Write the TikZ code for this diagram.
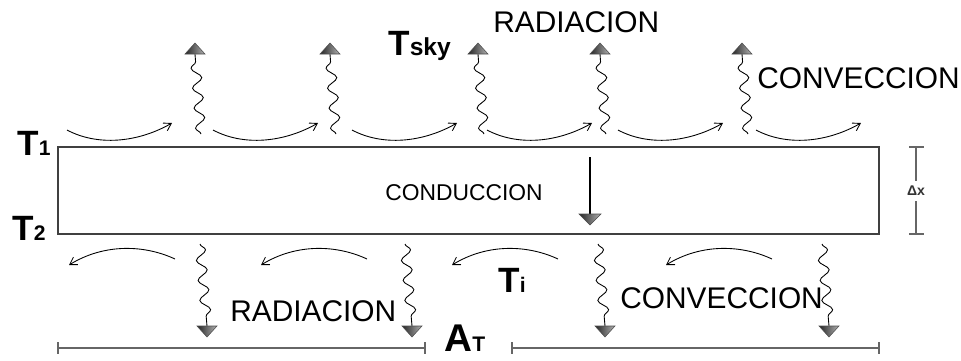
\documentclass[tikz,border=0pt]{standalone}
\usepackage{fontspec}
\setmainfont{Liberation Sans}
\usetikzlibrary{decorations.pathmorphing,arrows.meta}

\tikzset{
  wave/.style={decorate, decoration={snake, segment length=0.4cm, amplitude=0.1cm, post length=0.06cm}, line width=0.5pt},
  tipshade/.style={left color=black!85, right color=black!30, draw=black!70, line width=0.3pt},
  flow/.style={-{Straight Barb[length=4pt,width=5pt]}, line width=0.5pt},
  dimline/.style={black!60, line width=1pt},
  word/.style={inner sep=0pt, anchor=base west, font=\fontsize{17}{17}\selectfont},
  temp/.style={inner sep=0pt, anchor=base west, font=\bfseries\fontsize{20}{20}\selectfont},
}
\newcommand{\subsm}[1]{{\fontsize{12}{12}\selectfont #1}}

\begin{document}
\begin{tikzpicture}[x=0.02cm, y=-0.02cm]
\useasboundingbox (0,0) rectangle (961,360);

% Slab
\draw[black!75, line width=0.8pt] (58,147) rectangle (879,234);

% Convection above and below
\foreach \s in {67,213,352,487,618,756}
  \draw[flow] (\s,130) .. controls (\s+30,146) and (\s+70,143) .. (\s+105,123);
\foreach \s in {175,367,558,772}
  \draw[flow] (\s,259) .. controls (\s-30,245) and (\s-70,243) .. (\s-106,265);

% Radiation up and down
\foreach \x in {195,330,478,600,742} {
  \draw[wave] (\x+6,134) -- (\x,54);
  \shade[tipshade] (\x-10,54) -- (\x+10,54) -- (\x,43) -- cycle;
}
\foreach \x in {200,405,598,822} {
  \draw[wave] (\x,244) -- (\x+7,326);
  \shade[tipshade] (\x-3,326) -- (\x+17,326) -- (\x+7,337) -- cycle;
}

% Conduction
\draw[line width=0.6pt] (590,157) -- (590,214);
\shade[tipshade] (579,214) -- (601,214) -- (590,225) -- cycle;

% Dimensions
\draw[dimline] (909,147) -- (924,147) (916,147) -- (916,181)
  (916,201) -- (916,234) (909,234) -- (924,234);
\draw[dimline] (58,342) -- (58,354) (58,348) -- (425,348) (425,342) -- (425,354);
\draw[dimline] (512,342) -- (512,354) (512,348) -- (879,348) (879,342) -- (879,354);

% Labels
\node[word] (radTop) at (493,32) {RADIACION};
\node[word] (convTop) at (757,88) {CONVECCION};
\node[word] (radBot) at (230,321) {RADIACION};
\node[word] (convBot) at (620,308) {CONVECCION};
\node[word, font=\fontsize{13}{13}\selectfont] (cond) at (385,200) {CONDUCCION};
\node[temp] (tOne) at (17,155) {T\subsm{1}};
\node[temp] (tTwo) at (12,240) {T\subsm{2}};
\node[temp] (tSky) at (388,55) {T{\fontsize{14}{14}\selectfont sky}};
\node[temp] (tIn) at (498,292) {T\subsm{i}};
\node[temp, font=\bfseries\fontsize{22}{22}\selectfont] (area) at (444,351) {A\subsm{T}};
\node[inner sep=0pt, font=\bfseries\fontsize{8}{8}\selectfont, text=black!80] (dx) at (916,191) {Δx};
\end{tikzpicture}
\end{document}
